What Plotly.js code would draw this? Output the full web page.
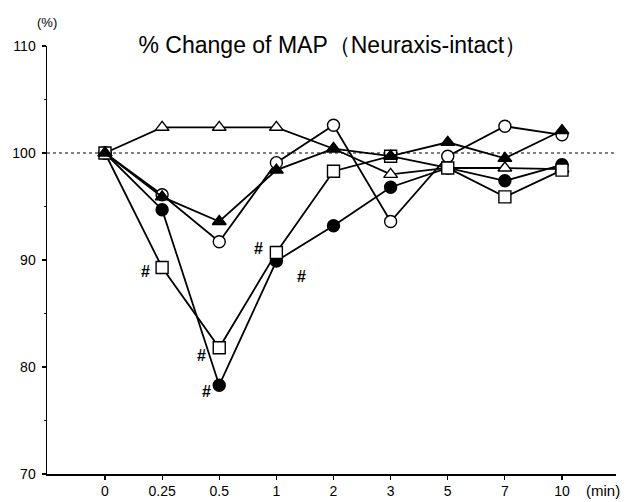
<!DOCTYPE html>
<html>
<head>
<meta charset="utf-8">
<script src="https://cdn.plot.ly/plotly-3.0.1.min.js"></script>
<style>html,body{margin:0;padding:0;background:#fff;}#chart{width:628px;height:502px;}</style>
</head>
<body>
<div id="chart"></div>
<script>
// Time points (categorical, evenly spaced)
const timeLabels = ["0", "0.25", "0.5", "1", "2", "3", "5", "7", "10"];

// % change of MAP per group
const openCircle   = [100, 96.1, 91.7, 99.1, 102.6, 93.6, 99.7, 102.5, 101.7];
const filledCircle = [100, 94.7, 78.3, 89.9, 93.2, 96.8, 98.6, 97.4, 98.9];
const openTriangle = [100, 102.4, 102.4, 102.4, 100.4, 98.0, 98.6, 98.6, 98.5];
const openSquare   = [100, 89.3, 81.8, 90.7, 98.3, 99.7, 98.6, 95.9, 98.4];
const filledTri    = [100, 95.9, 93.6, 98.4, 100.4, 99.7, 101.0, 99.5, 102.1];

// significance (#) flags
const sigSquare = [0, 1, 1, 1, 0, 0, 0, 0, 0];
const sigFilledCircle = [0, 0, 1, 1, 0, 0, 0, 0, 0];

const yTicks = [70, 80, 90, 100, 110];
const baseline = 100;

const xIdx = timeLabels.map((_, i) => i);

function series(y, symbol, fill, size) {
  return {
    x: xIdx, y: y, type: 'scatter', mode: 'lines+markers',
    line: {color: '#000', width: 1.8},
    marker: {symbol: symbol, size: size, color: fill, line: {color: '#000', width: 1.4}},
    cliponaxis: false, showlegend: false, hoverinfo: 'skip'
  };
}

const data = [
  series(openCircle, 'circle', '#fff', 12),
  series(filledCircle, 'circle', '#000', 12),
  series(openTriangle, 'triangle-up', '#fff', 12),
  series(openSquare, 'square', '#fff', 12),
  series(filledTri, 'triangle-up', '#000', 12)
];

const annFont = {family: 'Liberation Sans, Arial, sans-serif', size: 16, color: '#000'};
const annotations = [];
// offsets for # labels (square series)
const sqOff = {1: [-17, 4], 2: [-18, 8], 3: [-18, -4]};
sigSquare.forEach((s, i) => {
  if (s) annotations.push({x: xIdx[i], y: openSquare[i], xref: 'x', yref: 'y', text: '<b>#</b>',
    showarrow: false, xshift: sqOff[i][0], yshift: -sqOff[i][1], font: annFont});
});
const fcOff = {2: [-13, 6], 3: [25, 15]};
sigFilledCircle.forEach((s, i) => {
  if (s) annotations.push({x: xIdx[i], y: filledCircle[i], xref: 'x', yref: 'y', text: '<b>#</b>',
    showarrow: false, xshift: fcOff[i][0], yshift: -fcOff[i][1], font: annFont});
});
annotations.push({x: 0, y: 1, xref: 'paper', yref: 'paper', text: '(%)', showarrow: false,
  xanchor: 'center', yanchor: 'bottom', xshift: 0, yshift: 14, font: {family: 'Liberation Sans, Arial, sans-serif', size: 13, color: '#000'}});
annotations.push({x: 1, y: 0, xref: 'paper', yref: 'paper', text: '(min)', showarrow: false,
  xanchor: 'right', yanchor: 'top', xshift: 6, yshift: -6, font: {family: 'Liberation Sans, Arial, sans-serif', size: 15, color: '#000'}});

const layout = {
  width: 628, height: 502,
  margin: {l: 47, r: 12, t: 46, b: 28},
  paper_bgcolor: '#fff', plot_bgcolor: '#fff',
  font: {family: 'Liberation Sans, Arial, sans-serif', color: '#000', size: 13},
  title: {text: '% Change of MAP（Neuraxis-intact）', x: 0.53, xanchor: 'center', y: 0.91, yanchor: 'middle',
    font: {family: 'Liberation Sans, Arial, sans-serif', size: 23, color: '#000'}},
  xaxis: {
    range: [-1.015, 8.945], tickvals: xIdx, ticktext: timeLabels,
    showline: true, linecolor: '#000', linewidth: 1.5, showgrid: false, zeroline: false,
    ticks: 'outside', ticklen: 4, tickwidth: 1.2, tickcolor: '#000',
    tickfont: {size: 14}, fixedrange: true
  },
  yaxis: {
    range: [70, 110], tickvals: yTicks, ticktext: yTicks.map(String),
    showline: true, linecolor: '#000', linewidth: 1.5, showgrid: false, zeroline: false,
    ticks: 'outside', ticklen: 4, tickwidth: 1.2, tickcolor: '#000',
    ticklabelstandoff: 3,
    minor: {dtick: 5, tick0: 70, ticks: 'outside', ticklen: 2, tickcolor: '#000', tickwidth: 1},
    tickfont: {size: 14}, fixedrange: true
  },
  shapes: [{type: 'line', xref: 'paper', x0: 0, x1: 1, yref: 'y', y0: baseline, y1: baseline,
    line: {color: '#000', width: 1, dash: 'dot'}, layer: 'below'}],
  annotations: annotations
};

Plotly.newPlot('chart', data, layout, {staticPlot: true, displayModeBar: false});
</script>
</body>
</html>
